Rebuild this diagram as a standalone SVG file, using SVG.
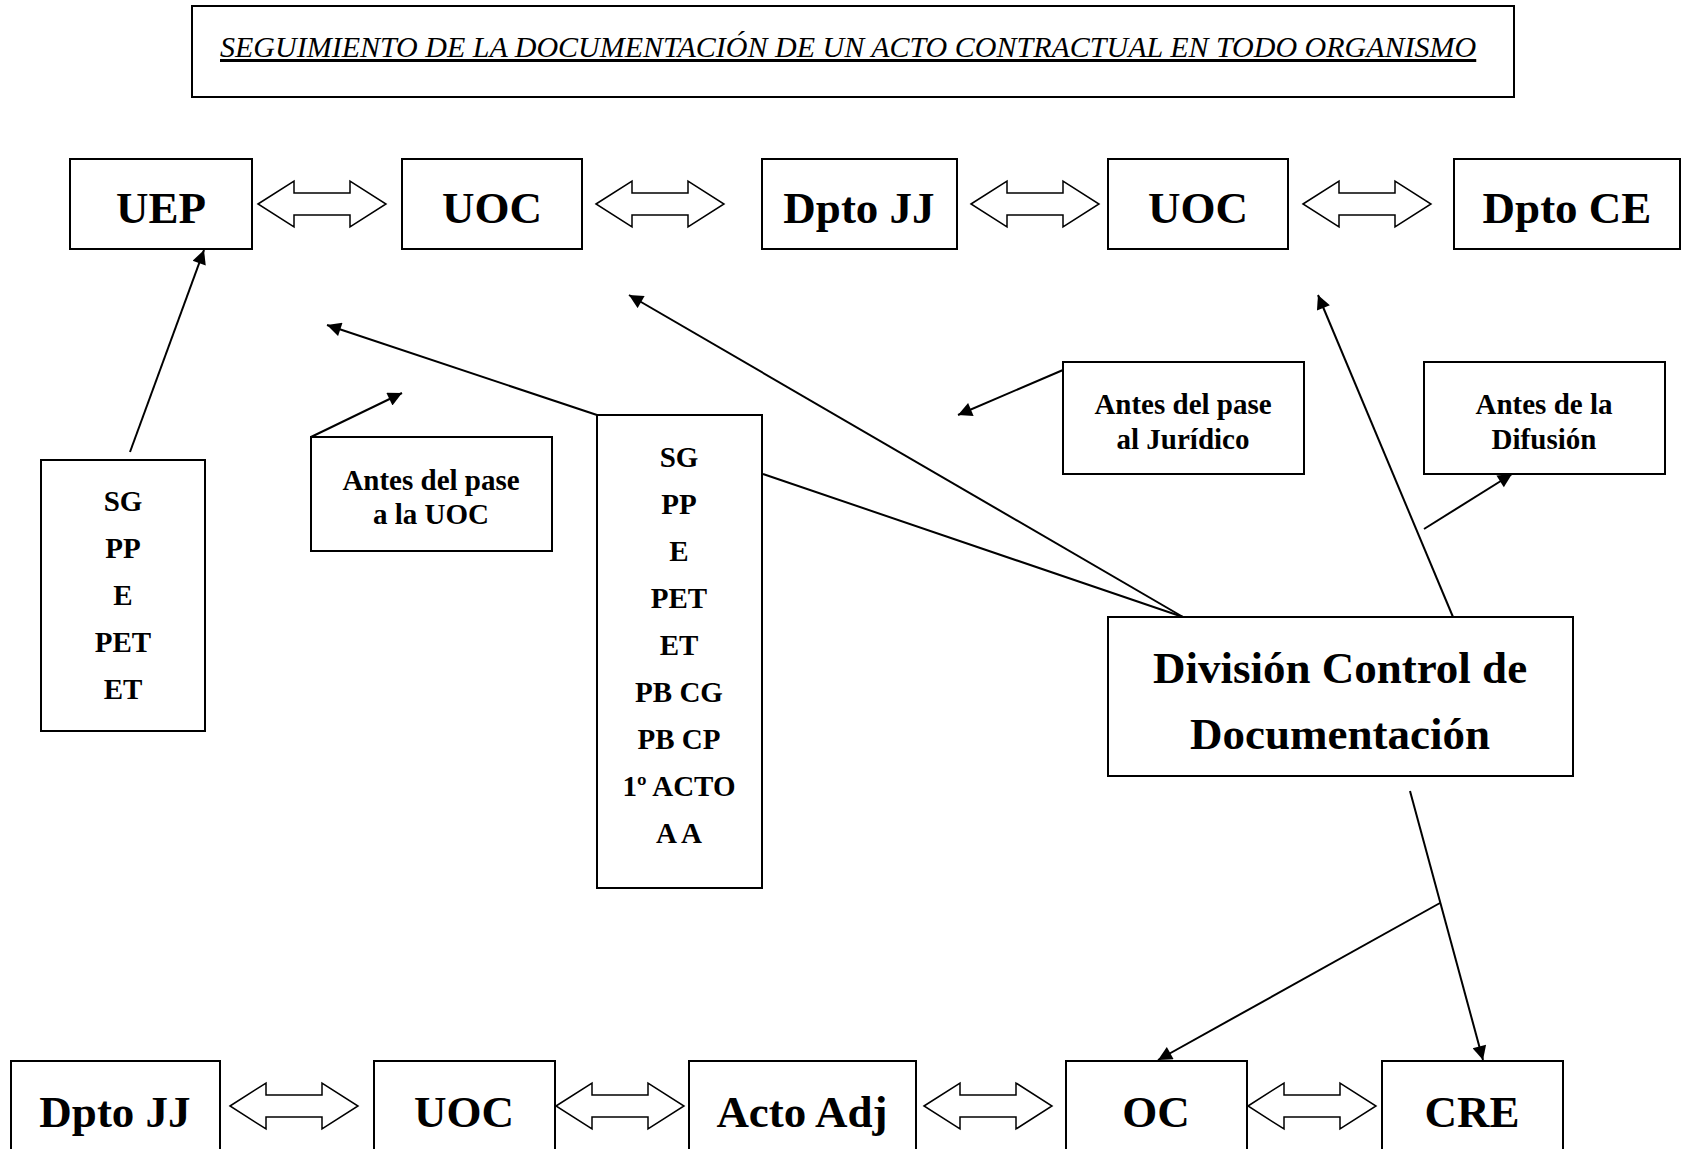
<svg xmlns="http://www.w3.org/2000/svg" xmlns:xlink="http://www.w3.org/1999/xlink" width="1686" height="1149" viewBox="0 0 1686 1149">
<style>
.box{fill:#fff;stroke:#000;stroke-width:2}
.t{font-family:"Liberation Serif","Times New Roman",serif;font-weight:bold;fill:#000;text-anchor:middle}
.big{font-size:45px}
.sm{font-size:29px}
.title{font-family:"Liberation Serif","Times New Roman",serif;font-style:italic;font-size:30px;text-decoration:underline;fill:#000}
.ln{fill:none;stroke:#000;stroke-width:2}
.da{fill:#fff;stroke:#000;stroke-width:1.5}
</style>
<defs>
<marker id="ah" viewBox="0 0 10 10" refX="10" refY="5" markerWidth="16" markerHeight="14" markerUnits="userSpaceOnUse" orient="auto"><path d="M0,0 L10,5 L0,10 z" fill="#000"/></marker>
<path id="dbl" class="da" d="M-64,0 L-28,-23 L-28,-11 L28,-11 L28,-23 L64,0 L28,23 L28,11 L-28,11 L-28,23 Z"/>
</defs>
<rect width="1686" height="1149" fill="#fff"/>

<g id="title">
<rect class="box" x="192" y="6" width="1322" height="91"/>
<text class="title" x="220" y="57">SEGUIMIENTO DE LA DOCUMENTACIÓN DE UN ACTO CONTRACTUAL EN TODO ORGANISMO</text>
</g>

<g id="connectors">
<use xlink:href="#dbl" x="322" y="204"/>
<use xlink:href="#dbl" x="660" y="204"/>
<use xlink:href="#dbl" x="1035" y="204"/>
<use xlink:href="#dbl" x="1367" y="204"/>
<use xlink:href="#dbl" x="294" y="1106"/>
<use xlink:href="#dbl" x="620" y="1106"/>
<use xlink:href="#dbl" x="988" y="1106"/>
<use xlink:href="#dbl" x="1312" y="1106"/>
<line class="ln" x1="130" y1="452" x2="204" y2="250" marker-end="url(#ah)"/>
<line class="ln" x1="311" y1="437" x2="402" y2="393" marker-end="url(#ah)"/>
<line class="ln" x1="597" y1="415" x2="327" y2="325" marker-end="url(#ah)"/>
<line class="ln" x1="763" y1="474" x2="1183" y2="617"/>
<line class="ln" x1="1183" y1="617" x2="629" y2="295" marker-end="url(#ah)"/>
<line class="ln" x1="1063" y1="370" x2="958" y2="415" marker-end="url(#ah)"/>
<line class="ln" x1="1453" y1="617" x2="1318" y2="295" marker-end="url(#ah)"/>
<line class="ln" x1="1424" y1="529" x2="1512" y2="474" marker-end="url(#ah)"/>
<line class="ln" x1="1410" y1="791" x2="1483" y2="1060" marker-end="url(#ah)"/>
<line class="ln" x1="1440" y1="903" x2="1158" y2="1060" marker-end="url(#ah)"/>
</g>

<g id="n-uep"><rect class="box" x="70" y="159" width="182" height="90"/><text class="t big" x="161" y="223">UEP</text></g>
<g id="n-uoc1"><rect class="box" x="402" y="159" width="180" height="90"/><text class="t big" x="492" y="223">UOC</text></g>
<g id="n-dptojj1"><rect class="box" x="762" y="159" width="195" height="90"/><text class="t big" x="859" y="223">Dpto JJ</text></g>
<g id="n-uoc2"><rect class="box" x="1108" y="159" width="180" height="90"/><text class="t big" x="1198" y="223">UOC</text></g>
<g id="n-dptoce"><rect class="box" x="1454" y="159" width="226" height="90"/><text class="t big" x="1567" y="223">Dpto CE</text></g>

<g id="n-list1"><rect class="box" x="41" y="460" width="164" height="271"/>
<text class="t sm" x="123" y="511">SG</text>
<text class="t sm" x="123" y="558">PP</text>
<text class="t sm" x="123" y="605">E</text>
<text class="t sm" x="123" y="652">PET</text>
<text class="t sm" x="123" y="699">ET</text>
</g>

<g id="n-antes-uoc"><rect class="box" x="311" y="437" width="241" height="114"/>
<text class="t sm" x="431" y="490">Antes del pase</text>
<text class="t sm" x="431" y="524">a la UOC</text>
</g>

<g id="n-list2"><rect class="box" x="597" y="415" width="165" height="473"/>
<text class="t sm" x="679" y="467">SG</text>
<text class="t sm" x="679" y="514">PP</text>
<text class="t sm" x="679" y="561">E</text>
<text class="t sm" x="679" y="608">PET</text>
<text class="t sm" x="679" y="655">ET</text>
<text class="t sm" x="679" y="702">PB CG</text>
<text class="t sm" x="679" y="749">PB CP</text>
<text class="t sm" x="679" y="796">1º ACTO</text>
<text class="t sm" x="679" y="843">A A</text>
</g>

<g id="n-antes-jur"><rect class="box" x="1063" y="362" width="241" height="112"/>
<text class="t sm" x="1183" y="414">Antes del pase</text>
<text class="t sm" x="1183" y="449">al Jurídico</text>
</g>

<g id="n-antes-dif"><rect class="box" x="1424" y="362" width="241" height="112"/>
<text class="t sm" x="1544" y="414">Antes de la</text>
<text class="t sm" x="1544" y="449">Difusión</text>
</g>

<g id="n-division"><rect class="box" x="1108" y="617" width="465" height="159"/>
<text class="t big" x="1340" y="683">División Control de</text>
<text class="t big" x="1340" y="749">Documentación</text>
</g>

<g id="n-dptojj2"><rect class="box" x="11" y="1061" width="209" height="100"/><text class="t big" x="115" y="1127">Dpto JJ</text></g>
<g id="n-uoc3"><rect class="box" x="374" y="1061" width="181" height="100"/><text class="t big" x="464" y="1127">UOC</text></g>
<g id="n-actoadj"><rect class="box" x="689" y="1061" width="227" height="100"/><text class="t big" x="802" y="1127">Acto Adj</text></g>
<g id="n-oc"><rect class="box" x="1066" y="1061" width="181" height="100"/><text class="t big" x="1156" y="1127">OC</text></g>
<g id="n-cre"><rect class="box" x="1382" y="1061" width="181" height="100"/><text class="t big" x="1472" y="1127">CRE</text></g>
</svg>
